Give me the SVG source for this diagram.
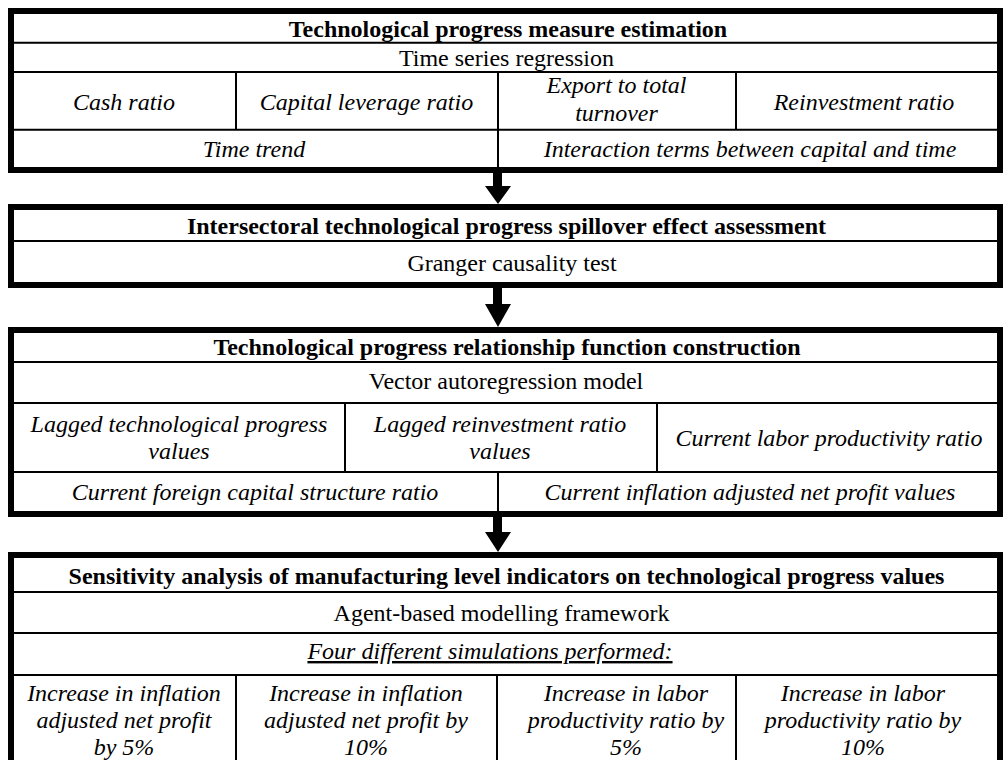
<svg xmlns="http://www.w3.org/2000/svg" width="1003" height="760" viewBox="0 0 1003 760">
  <style>
    .frame { fill: #ffffff; stroke: #000000; stroke-width: 6; }
    .rule { stroke: #000000; stroke-width: 2; fill: none; }
    .t { font-family: 'Liberation Serif', serif; font-size: 24px; fill: #000000; text-anchor: middle; }
    .h { font-weight: bold; }
    .i { font-style: italic; }
    .u { text-decoration: underline; }
    .arrow { fill: #000000; }
  </style>

  <rect x="0" y="0" width="1003" height="760" fill="#ffffff"/>

  <!-- Stage 1 -->
  <g id="stage-measure">
    <rect class="frame" x="11" y="11" width="989" height="159"/>
    <path class="rule" d="M14 42.7H997 M14 72H997 M14 129.7H997 M236 72V129.7 M498 72V167 M736 72V129.7"/>
    <g class="t" font-family="Liberation Serif, serif">
      <text class="h" x="508" y="37">Technological progress measure estimation</text>
      <text x="506.5" y="66">Time series regression</text>
      <text class="i" x="124" y="110">Cash ratio</text>
      <text class="i" x="366.5" y="110">Capital leverage ratio</text>
      <text class="i" x="616.5" y="93">Export to total</text>
      <text class="i" x="616.5" y="121">turnover</text>
      <text class="i" x="864" y="110">Reinvestment ratio</text>
      <text class="i" x="254" y="156.5">Time trend</text>
      <text class="i" x="750" y="156.5">Interaction terms between capital and time</text>
    </g>
  </g>

  <!-- Stage 2 -->
  <g id="stage-spillover">
    <rect class="frame" x="11" y="207" width="989" height="78"/>
    <path class="rule" d="M14 241H997"/>
    <g class="t" font-family="Liberation Serif, serif">
      <text class="h" x="506.5" y="234">Intersectoral technological progress spillover effect assessment</text>
      <text x="512" y="271">Granger causality test</text>
    </g>
  </g>

  <!-- Stage 3 -->
  <g id="stage-relationship">
    <rect class="frame" x="11" y="330" width="989" height="184"/>
    <path class="rule" d="M14 362H997 M14 403H997 M14 472H997 M345 403V472 M657 403V472 M498 472V511"/>
    <g class="t" font-family="Liberation Serif, serif">
      <text class="h" x="507" y="355">Technological progress relationship function construction</text>
      <text x="506" y="389">Vector autoregression model</text>
      <text class="i" x="179" y="431.5">Lagged technological progress</text>
      <text class="i" x="179" y="458.5">values</text>
      <text class="i" x="500" y="431.5">Lagged reinvestment ratio</text>
      <text class="i" x="500" y="458.5">values</text>
      <text class="i" x="829" y="446">Current labor productivity ratio</text>
      <text class="i" x="255" y="500">Current foreign capital structure ratio</text>
      <text class="i" x="750" y="500">Current inflation adjusted net profit values</text>
    </g>
  </g>

  <!-- Stage 4 -->
  <g id="stage-sensitivity">
    <rect class="frame" x="11" y="555" width="989" height="240"/>
    <path class="rule" d="M14 592H997 M14 633H997 M14 675H997 M236 675V760 M497 675V760 M736 675V760"/>
    <g class="t" font-family="Liberation Serif, serif">
      <text class="h" x="506.5" y="583.5">Sensitivity analysis of manufacturing level indicators on technological progress values</text>
      <text x="501.5" y="620.5">Agent-based modelling framework</text>
      <text class="i u" x="490" y="659">Four different simulations performed:</text>
      <text class="i" x="124" y="701">Increase in inflation</text>
      <text class="i" x="124" y="728">adjusted net profit</text>
      <text class="i" x="124" y="755">by 5%</text>
      <text class="i" x="366" y="701">Increase in inflation</text>
      <text class="i" x="366" y="728">adjusted net profit by</text>
      <text class="i" x="366" y="755">10%</text>
      <text class="i" x="626" y="701">Increase in labor</text>
      <text class="i" x="626" y="728">productivity ratio by</text>
      <text class="i" x="626" y="755">5%</text>
      <text class="i" x="863" y="701">Increase in labor</text>
      <text class="i" x="863" y="728">productivity ratio by</text>
      <text class="i" x="863" y="755">10%</text>
    </g>
  </g>

  <!-- Flow arrows between stages -->
  <g id="connectors">
    <path class="arrow" d="M493 173H502V186H511L498 204L485 186H493Z"/>
    <path class="arrow" d="M493 288H502V304H511L498 327L485 304H493Z"/>
    <path class="arrow" d="M493 516H502V532H511L498 552L485 532H493Z"/>
  </g>
</svg>
